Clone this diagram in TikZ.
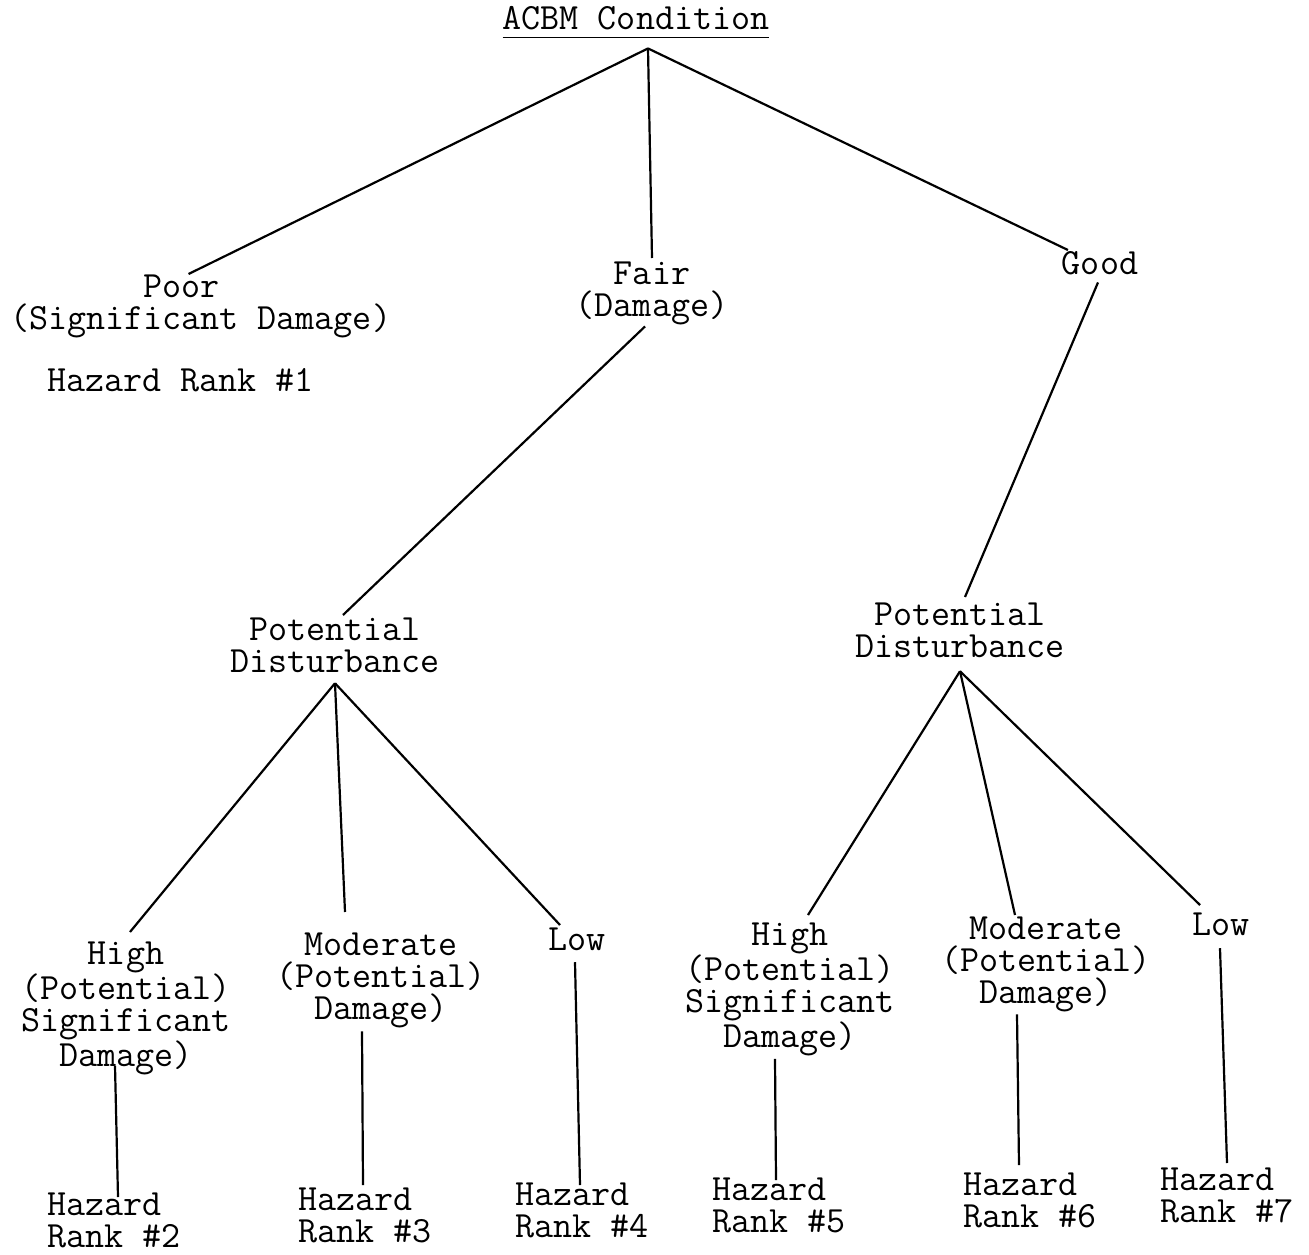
\documentclass[tikz,border=0pt]{standalone}
\usepackage{fontspec}
\newcommand\fs{\rule{0pt}{28pt}}
\begin{document}
\begin{tikzpicture}[x=1pt,y=-1pt,
  font=\ttfamily\fontsize{37}{32}\selectfont\addfontfeatures{FakeBold=1.2},
  lbl/.style={inner sep=0pt,outer sep=0pt,align=center,anchor=north},
  lbll/.style={inner sep=0pt,outer sep=0pt,align=left,anchor=north west},
  edge/.style={line width=2.2pt}]
\useasboundingbox (0,0) rectangle (1309,1255);

% nodes
\node[lbl] (title) at (636,2) {\fs ACBM Condition};
\node[lbll] (poor) at (10,269) {\fs\phantom{xxxxxxx}Poor\\(Significant Damage)};
\node[lbll] (rank1) at (47,363) {\fs Hazard Rank \#1};
\node[lbl] (fair) at (652,256) {\fs Fair\\(Damage)};
\node[lbl] (good) at (1100,246) {\fs Good};
\node[lbl] (pdL) at (335,612) {\fs Potential\\Disturbance};
\node[lbl] (pdR) at (960,597) {\fs Potential\\Disturbance};
\node[lbl] (highL) at (126,936) {\fs High\\(Potential)\\Significant\\Damage)};
\node[lbl] (modL) at (381,927) {\fs Moderate\\(Potential)\\Damage)};
\node[lbl] (lowL) at (577,922) {\fs Low};
\node[lbl] (highR) at (790,917) {\fs High\\(Potential)\\Significant\\Damage)};
\node[lbl] (modR) at (1046,911) {\fs Moderate\\(Potential)\\Damage)};
\node[lbl] (lowR) at (1221,907) {\fs Low};
\node[lbll] (hz2) at (47,1187) {\fs Hazard\\Rank \#2};
\node[lbll] (hz3) at (298,1182) {\fs Hazard\\Rank \#3};
\node[lbll] (hz4) at (515,1177) {\fs Hazard\\Rank \#4};
\node[lbll] (hz5) at (712,1172) {\fs Hazard\\Rank \#5};
\node[lbll] (hz6) at (963,1167) {\fs Hazard\\Rank \#6};
\node[lbll] (hz7) at (1160,1162) {\fs Hazard\\Rank \#7};

% underline of title
\draw[line width=1.8pt] ([shift={(0,7)}]title.south west) -- ([shift={(0,7)}]title.south east);

% branching points
\coordinate (a0) at ([shift={(12,18)}]title.south);
\coordinate (a1) at ([shift={(0,11)}]pdL.south);
\coordinate (a2) at ([shift={(0,14)}]pdR.south);

% first level
\draw[edge] (a0) -- ([shift={(-12,5)}]poor.north);
\draw[edge] (a0) -- ([shift={(0,2)}]fair.north);
\draw[edge] (a0) -- ([shift={(6,4)}]good.north west);

% second level
\draw[edge] ([shift={(-7,2)}]fair.south) -- ([shift={(8,3)}]pdL.north);
\draw[edge] ([shift={(-2,8)}]good.south) -- ([shift={(5,0)}]pdR.north);

% third level
\draw[edge] (a1) -- ([shift={(4,-4)}]highL.north);
\draw[edge] (a1) -- ([shift={(-36,-15)}]modL.north);
\draw[edge] (a1) -- ([shift={(-17,3)}]lowL.north);
\draw[edge] (a2) -- ([shift={(18,-2)}]highR.north);
\draw[edge] (a2) -- ([shift={(-31,4)}]modR.north);
\draw[edge] (a2) -- ([shift={(-21,-2)}]lowR.north);

% verticals to hazard ranks
\draw[edge] ([shift={(-11,-9)}]highL.south) -- ([shift={(71,10)}]hz2.north west);
\draw[edge] ([shift={(-19,4)}]modL.south) -- ([shift={(65,3)}]hz3.north west);
\draw[edge] ([shift={(-2,12)}]lowL.south) -- ([shift={(65,8)}]hz4.north west);
\draw[edge] ([shift={(-15,3)}]highR.south) -- ([shift={(64,8)}]hz5.north west);
\draw[edge] ([shift={(-29,3)}]modR.south) -- ([shift={(56,-2)}]hz6.north west);
\draw[edge] ([shift={(-1,13)}]lowR.south) -- ([shift={(67,1)}]hz7.north west);
\end{tikzpicture}
\end{document}
